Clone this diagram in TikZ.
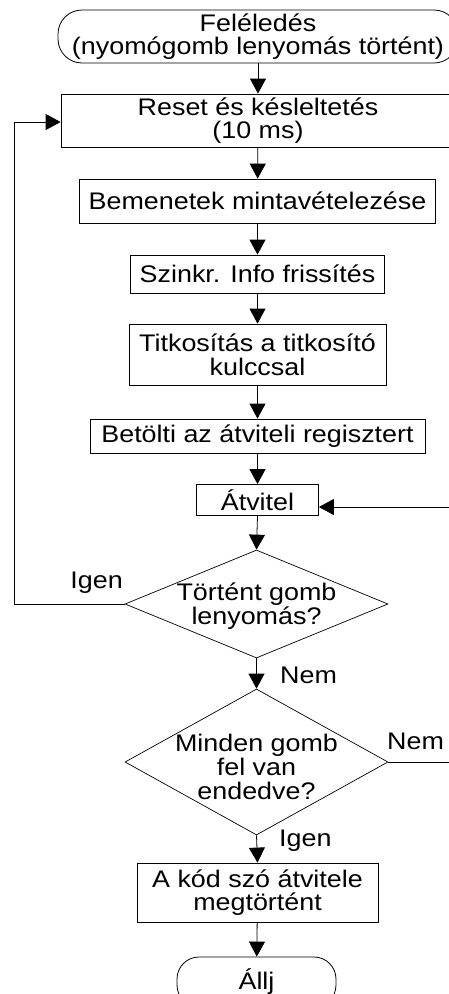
\documentclass[tikz,border=0pt]{standalone}
\usepackage{fontspec}
\setmainfont[FakeStretch=1.12]{Liberation Sans}
\usetikzlibrary{arrows.meta,shapes.geometric}

\tikzset{
  every node/.style={font=\fontsize{24}{23.7}\selectfont, inner sep=2pt},
  procbox/.style={draw, rectangle, line width=0.8pt, align=center, inner sep=0pt},
  termbox/.style={draw, rectangle, line width=0.8pt, align=center, inner sep=0pt},
  decbox/.style={draw, diamond, line width=0.7pt, inner sep=0pt},
  flow/.style={line width=0.8pt, -{Triangle[length=15pt,width=16pt]}},
  answer/.style={inner sep=0pt},
}

\begin{document}
\begin{tikzpicture}[x=1pt, y=-1pt]
  \useasboundingbox (0,0) rectangle (449,994);
  \fill[white] (0,0) rectangle (449,994);

  % rails for the two feedback loops
  \coordinate (railL) at (14,0);
  \coordinate (railR) at (470,0);

  % start and process steps
  \node[termbox, rounded corners=24pt, minimum width=400pt, minimum height=53pt]
    (start) at (258,36.5) {Feléledés\\(nyomógomb lenyomás történt)};
  \node[procbox, minimum width=394pt, minimum height=53pt]
    (reset) at (258,120.5) {Reset és késleltetés\\(10 ms)};
  \node[procbox, minimum width=356pt, minimum height=44pt]
    (sample) at (257.5,201) {Bemenetek mintavételezése};
  \node[procbox, minimum width=254pt, minimum height=38pt]
    (sync) at (257.5,274) {Szinkr. Info frissítés};
  \node[procbox, minimum width=257pt, minimum height=61pt]
    (crypt) at (257.5,354.5) {Titkosítás a titkosító\\kulccsal};
  \node[procbox, minimum width=335pt, minimum height=34pt]
    (load) at (257.5,436) {Betölti az átviteli regisztert};
  \node[procbox, minimum width=122pt, minimum height=31pt]
    (atv) at (257.5,500) {Átvitel};

  % decisions
  \node[decbox, minimum width=263pt, minimum height=108pt,
        label={[align=center, yshift=-2pt]center:Történt gomb\\lenyomás?}]
    (d1) at (256.5,604) {};
  \node[decbox, minimum width=263pt, minimum height=146pt,
        label={[align=center, yshift=-5pt]center:Minden gomb\\fel van\\endedve?}]
    (d2) at (256.5,762) {};

  % end
  \node[procbox, minimum width=241pt, minimum height=59pt]
    (done) at (257.5,892.5) {A kód szó átvitele\\megtörtént};
  \node[termbox, rounded corners=22pt, minimum width=159pt, minimum height=50pt]
    (stop) at (256.5,982) {Állj};

  % main flow
  \draw[flow] (start) -- (reset);
  \draw[flow] (reset) -- (sample);
  \draw[flow] (sample) -- (sync);
  \draw[flow] (sync) -- (crypt);
  \draw[flow] (crypt) -- (load);
  \draw[flow] (load) -- (atv);
  \draw[flow] (atv.south) -- (d1.north);
  \draw[flow] (d1.south) -- (d2.north);
  \draw[flow] (d2.south) -- (done.north);
  \draw[flow] (done) -- (stop);

  % loops
  \draw[flow] (d1.west) -- (d1.west -| railL) |- ([yshift=-1.5pt]reset.west);
  \draw[flow] (d2.east) -- (d2.east -| railR) |- ([yshift=-7pt]atv.east);

  % branch labels
  \node[answer, anchor=base east] (l1) at (123,588) {Igen};
  \node[answer, anchor=base west] (l2) at (280,683) {Nem};
  \node[answer, anchor=base west] (l3) at (387,749) {Nem};
  \node[answer, anchor=base west] (l4) at (279,846) {Igen};
\end{tikzpicture}
\end{document}
